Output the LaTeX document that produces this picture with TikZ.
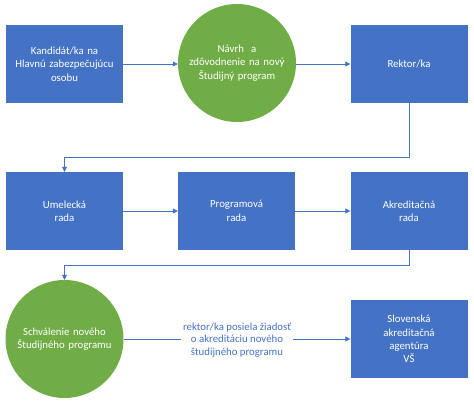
\documentclass[tikz,border=0pt]{standalone}
\usepackage{fontspec}
\setmainfont{Carlito}
\usetikzlibrary{arrows.meta}
\definecolor{bx}{HTML}{4472C4}
\definecolor{gr}{HTML}{70AD47}
\begin{document}
\begin{tikzpicture}[x=1pt,y=-1pt,
  box/.style={rectangle,fill=bx,minimum width=117pt,minimum height=78pt,text width=112pt,align=center,text=white,font=\fontsize{10.8}{13.4}\selectfont,inner sep=0pt},
  circ/.style={circle,fill=gr,minimum size=118pt,text width=110pt,align=center,text=white,font=\fontsize{10.8}{13.4}\selectfont,inner sep=0pt},
  conn/.style={draw=bx,line width=0.8pt,-{Triangle[length=5pt,width=5pt]}},
  plain/.style={draw=bx,line width=0.8pt}]
\useasboundingbox (0,0) rectangle (474,404);
\node[box] (a) at (64.5,64) {Kandidát/ka na\\Hlavnú zabezpečujúcu\\osobu};
\node[circ] (b) at (237,63) {Návrh\ \ a\\zdôvodnenie na nový\\Študijný program};
\node[box] (c) at (409,64) {Rektor/ka};
\node[box] (d) at (64.5,211) {Umelecká\\rada};
\node[box] (e) at (236.5,211) {Programová\\rada};
\node[box] (f) at (409,211) {Akreditačná\\rada};
\node[circ] (g) at (64.5,339) {Schválenie nového\\Študijného programu};
\node[box] (h) at (409,339) {Slovenská\\akreditačná\\agentúra\\VŠ};
\node[align=center,text=bx,font=\fontsize{10.8}{12.6}\selectfont,inner sep=2pt] (t) at (237,340) {rektor/ka posiela žiadosť\\o akreditáciu nového\\študijného programu};
\coordinate (k1) at (409,157);
\coordinate (k2) at (64.5,157);
\coordinate (k3) at (409,265);
\coordinate (k4) at (64.5,265);
\draw[conn] (a.east) -- (b.west |- a.east);
\draw[conn] (b.east |- c.west) -- (c.west);
\draw[conn] (c.south) -- (k1) -- (k2) -- (d.north);
\draw[conn] (d.east) -- (e.west);
\draw[conn] (e.east) -- (f.west);
\draw[conn] (f.south) -- (k3) -- (k4) -- (g.north);
\draw[plain] (g.east) -- (g.east -| t.west);
\draw[conn] (t.east |- h.west) -- (h.west);
\end{tikzpicture}
\end{document}
